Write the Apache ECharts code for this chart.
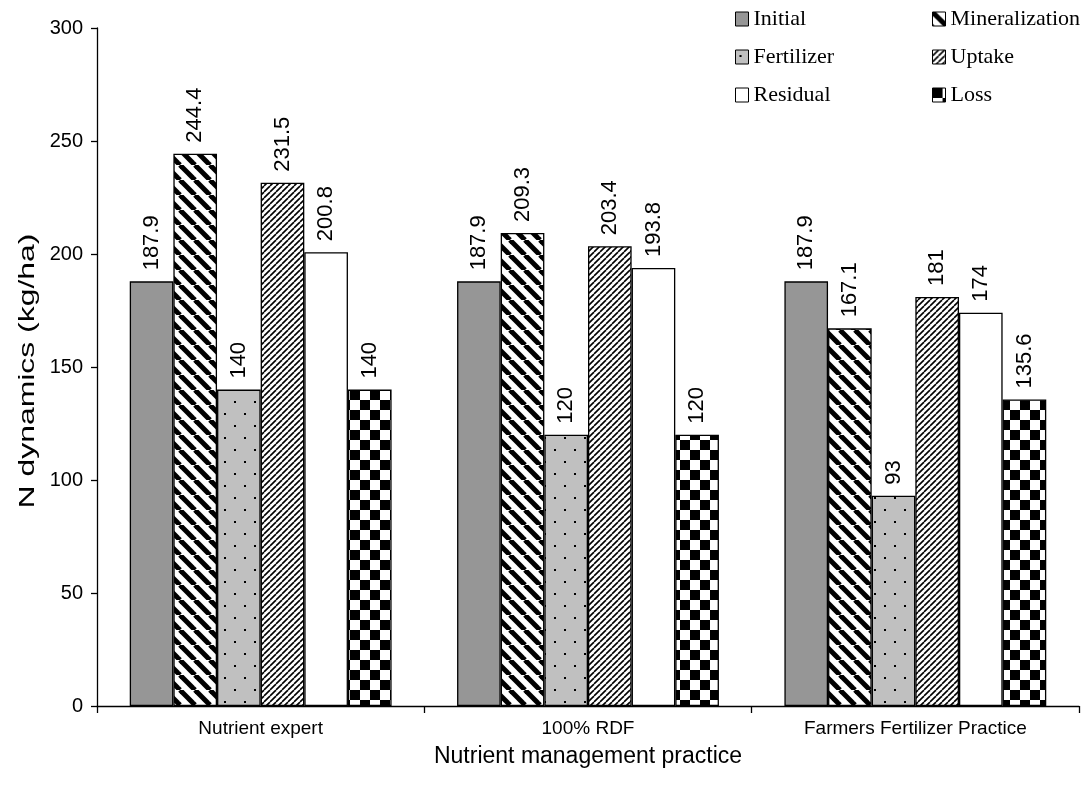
<!DOCTYPE html>
<html>
<head>
<meta charset="utf-8">
<script src="https://cdn.jsdelivr.net/npm/echarts@6/dist/echarts.min.js"></script>
<style>html,body{margin:0;padding:0;background:#fff}#c{width:1090px;height:802px}</style>
</head>
<body>
<div id="c"></div>
<script>
const categories = ['Nutrient expert', '100% RDF', 'Farmers Fertilizer Practice'];
const initial = [187.9, 187.9, 187.9];
const mineralization = [244.4, 209.3, 167.1];
const fertilizer = [140, 120, 93];
const uptake = [231.5, 203.4, 181];
const residual = [200.8, 193.8, 174];
const loss = [140, 120, 135.6];
const yTicks = [0, 50, 100, 150, 200, 250, 300];

function tile(w, h, draw) {
  const c = document.createElement('canvas');
  c.width = w; c.height = h;
  const ctx = c.getContext('2d');
  draw(ctx, w, h);
  return { image: c, repeat: 'repeat' };
}
const patMin = tile(15, 15, (ctx, s) => {
  ctx.fillStyle = '#fff'; ctx.fillRect(0, 0, s, s);
  ctx.strokeStyle = '#000'; ctx.lineWidth = 5;
  for (let k = -1; k <= 1; k++) {
    ctx.beginPath(); ctx.moveTo(k * s, 0); ctx.lineTo(k * s + s, s); ctx.stroke();
  }
});
const patUp = tile(6, 6, (ctx, s) => {
  ctx.fillStyle = '#fff'; ctx.fillRect(0, 0, s, s);
  ctx.strokeStyle = '#000'; ctx.lineWidth = 1.6;
  for (let k = -1; k <= 1; k++) {
    ctx.beginPath(); ctx.moveTo(k * s, s); ctx.lineTo(k * s + s, 0); ctx.stroke();
  }
});
const patFert = tile(20, 24, (ctx, w, h) => {
  ctx.fillStyle = '#c0c0c0'; ctx.fillRect(0, 0, w, h);
  ctx.fillStyle = '#000';
  ctx.fillRect(4, 5, 2, 2);
  ctx.fillRect(14, 17, 2, 2);
});
const patLoss = tile(20, 20, (ctx, w, h) => {
  ctx.fillStyle = '#fff'; ctx.fillRect(0, 0, w, h);
  ctx.fillStyle = '#000';
  ctx.fillRect(0, 0, 10, 10);
  ctx.fillRect(10, 10, 10, 10);
});

const sans = 'Liberation Sans, Arial, sans-serif';
const serif = 'Liberation Serif, Times New Roman, serif';
const labelCfg = {
  show: true, position: 'top', rotate: 90, align: 'left', verticalAlign: 'middle',
  distance: 11, fontSize: 22, color: '#000', fontFamily: sans
};
function bar(name, data, color) {
  return {
    name, type: 'bar', data, barGap: '0%', barCategoryGap: '20%',
    itemStyle: { color, borderColor: '#000', borderWidth: 1.3 },
    label: labelCfg, emphasis: { disabled: true }
  };
}
const legendCommon = {
  orient: 'vertical', top: 8, itemWidth: 13, itemHeight: 14, itemGap: 16, icon: 'rect',
  padding: 0,
  itemStyle: { borderColor: '#000', borderWidth: 1 },
  textStyle: { fontFamily: serif, fontSize: 22, color: '#000', lineHeight: 22 }, selectedMode: false
};
const chart = echarts.init(document.getElementById('c'));
chart.setOption({
  animation: false,
  backgroundColor: '#fff',
  grid: { left: 97, right: 11, top: 28, bottom: 96, containLabel: false },
  legend: [
    Object.assign({ data: ['Initial', 'Fertilizer', 'Residual'], left: 735 }, legendCommon),
    Object.assign({ data: ['Mineralization', 'Uptake', 'Loss'], left: 932 }, legendCommon)
  ],
  xAxis: {
    type: 'category', data: categories,
    axisLine: { lineStyle: { color: '#000', width: 1.3 } },
    axisTick: { show: true, length: 7, lineStyle: { color: '#000', width: 1.3 } },
    axisLabel: { fontSize: 19, color: '#000', margin: 13, fontFamily: sans },
    splitLine: { show: false }
  },
  yAxis: {
    type: 'value', min: yTicks[0], max: yTicks[yTicks.length - 1], interval: 50,
    axisLine: { show: true, lineStyle: { color: '#000', width: 1.3 } },
    axisTick: { show: true, length: 6, lineStyle: { color: '#000', width: 1.3 } },
    axisLabel: { fontSize: 20, color: '#000', margin: 14, fontFamily: sans },
    splitLine: { show: false }
  },
  graphic: [
    { type: 'text', x: 588, y: 757, style: { text: 'Nutrient management practice', fontSize: 23,
      fontFamily: sans, fill: '#000', textAlign: 'center', textVerticalAlign: 'middle' } },
    { type: 'text', x: 28, y: 371, rotation: Math.PI / 2, scaleX: 1.45, scaleY: 1, style: { text: 'N dynamics (kg/ha)', fontSize: 22,
      fontFamily: sans, fill: '#000', textAlign: 'center', textVerticalAlign: 'middle' } }
  ],
  series: [
    bar('Initial', initial, '#969696'),
    bar('Mineralization', mineralization, patMin),
    bar('Fertilizer', fertilizer, patFert),
    bar('Uptake', uptake, patUp),
    bar('Residual', residual, '#ffffff'),
    bar('Loss', loss, patLoss)
  ]
});
</script>
</body>
</html>
